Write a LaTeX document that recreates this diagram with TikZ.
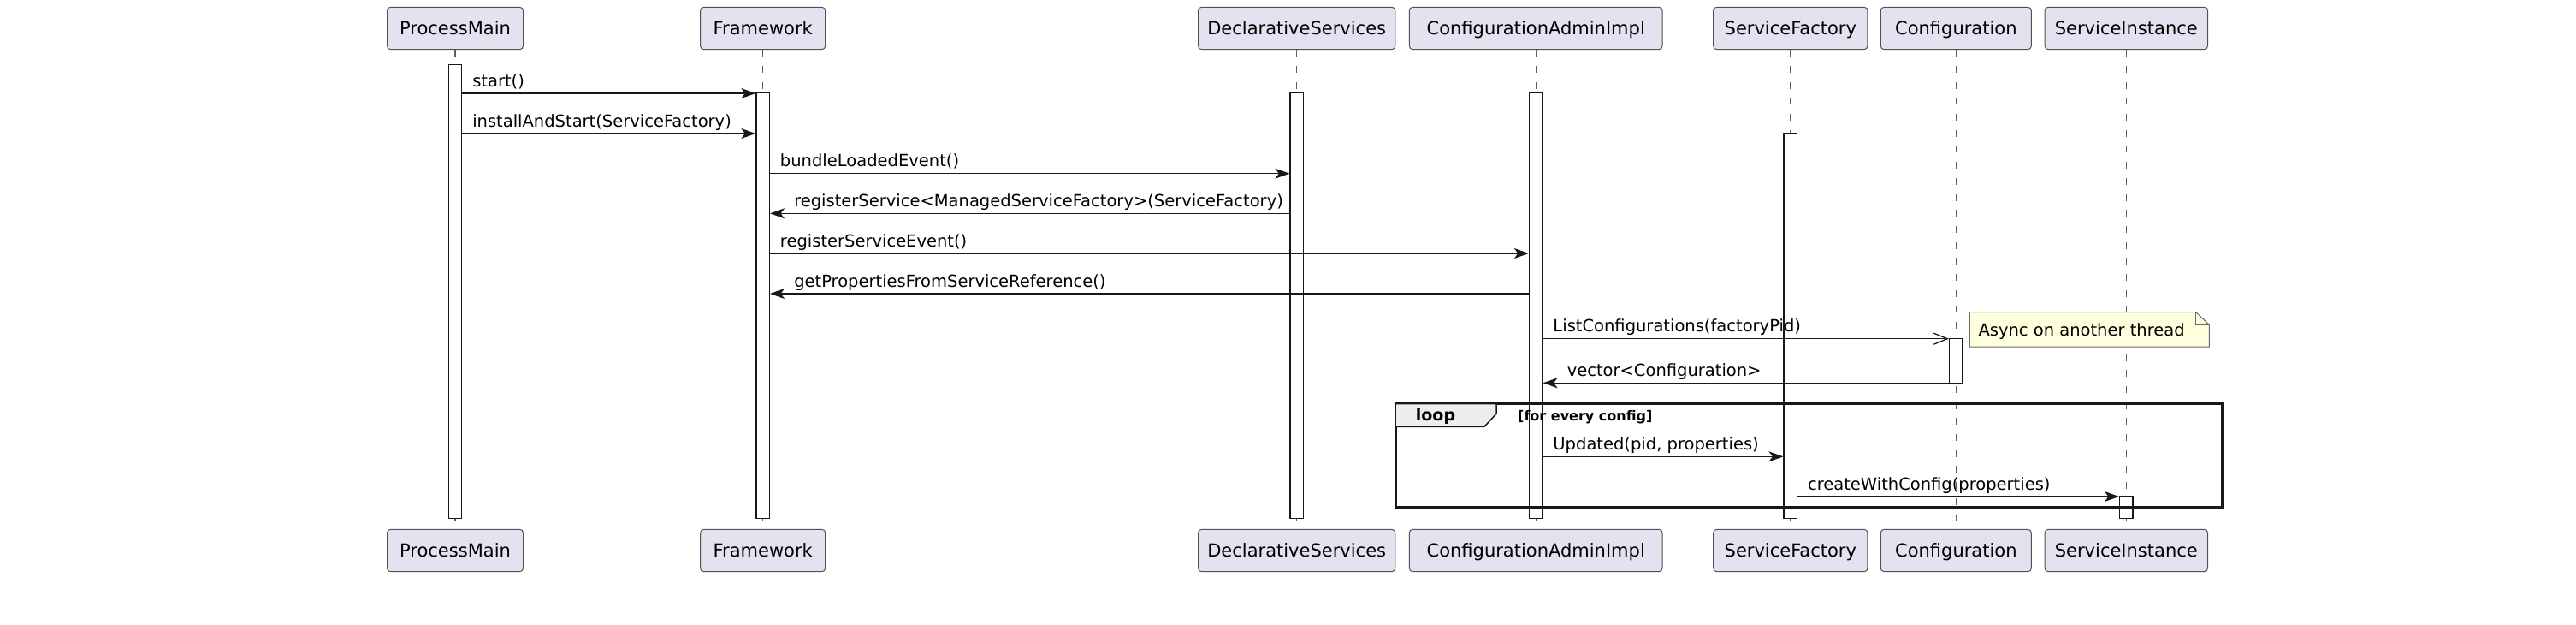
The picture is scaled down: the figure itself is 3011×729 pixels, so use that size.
\documentclass[tikz,border=0pt]{standalone}
\usepackage{fontspec}
\setmainfont{DejaVu Sans}
\usetikzlibrary{arrows.meta,calc}
\definecolor{partfill}{HTML}{E2E2F0}
\definecolor{ink}{HTML}{181818}
\definecolor{notefill}{HTML}{FEFFDD}
\definecolor{loopfill}{HTML}{EEEEEE}
\begin{document}
\begin{tikzpicture}[x=1pt,y=-1pt,
  part/.style={draw=ink!75, fill=partfill, line width=1pt, rounded corners=4pt,
    minimum height=49.4pt, inner xsep=0pt, inner ysep=0pt,
    font=\fontsize{21}{25}\selectfont, text height=17pt, text depth=2pt},
  life/.style={draw=ink!70, line width=1.1pt, dash pattern=on 8pt off 10.7pt},
  actbar/.style={draw=ink, fill=white, line width=1.4pt, minimum width=15.3pt, inner sep=0pt},
  msg/.style={draw=ink, line width=1.25pt, -{Stealth[length=17pt,width=12pt,inset=4.5pt]}},
  amsg/.style={draw=ink, line width=1.25pt, -{Straight Barb[length=16pt,width=13pt,line width=1.25pt]}},
  lbl/.style={font=\fontsize{19.5}{23}\selectfont, anchor=base west, inner sep=0pt},
]
\path[fill=white,use as bounding box] (0,0) rectangle (3011,729);

% participants (top and bottom)
\foreach \n/\x/\w/\t in {PM/532/159/ProcessMain, FW/891.7/146/Framework, DS/1515.7/230.3/DeclarativeServices,
  CA/1795.2/295.7/ConfigurationAdminImpl, SF/2092.8/180.3/ServiceFactory, CF/2286.3/176/Configuration,
  SI/2485.3/190.4/ServiceInstance}{
  \node[part, minimum width=\w pt] (\n T) at (\x,33) {\t};
  \node[part, minimum width=\w pt] (\n B) at (\x,643) {\t};
  \draw[life] (\n T.south) -- (\n B.north);
}

% activation bars
\node[actbar, minimum height=530.4pt] (aPM) at (532,340.5) {};
\node[actbar, minimum height=497pt] (aFW) at (891.7,357.2) {};
\node[actbar, minimum height=497pt] (aDS) at (1515.7,357.2) {};
\node[actbar, minimum height=497pt] (aCA) at (1795.2,357.2) {};
\node[actbar, minimum height=450pt] (aSF) at (2092.8,380.7) {};
\node[actbar, minimum height=51.6pt] (aCF) at (2286.3,421.5) {};
\node[actbar, minimum height=25.7pt] (aSI) at (2485.3,592.85) {};

% loop frame
\draw[draw=ink, line width=3pt] (1631,471.7) rectangle (2597.3,592.3);
\draw[draw=ink, fill=loopfill, line width=1.5pt] (1631,471.7) -- (1749,471.7) -- (1749,483.3)
  -- (1735,498.3) -- (1631,498.3) -- cycle;
\node[font=\bfseries\fontsize{19}{22}\selectfont, anchor=base, inner sep=0pt] (looptxt) at (1678,491.7) {loop};
\node[font=\bfseries\fontsize{16}{19}\selectfont, anchor=base west, inner sep=0pt] (loopcond) at (1774,491.7) {[for every config]};

% note
\draw[draw=ink!65, fill=notefill, line width=1pt] (2302.3,364.7) -- (2566.7,364.7) -- (2582.3,379.3)
  -- (2582.3,405) -- (2302.3,405) -- cycle;
\draw[draw=ink!65, line width=1pt] (2566.7,364.7) -- (2566.7,379.3) -- (2582.3,379.3);
\node[lbl] (note) at (2312.3,392.3) {Async on another thread};

% message rows
\coordinate (r1) at (0,109);
\coordinate (r2) at (0,156);
\coordinate (r3) at (0,202.7);
\coordinate (r4) at (0,249.3);
\coordinate (r5) at (0,296);
\coordinate (r6) at (0,343);
\coordinate (r7) at (0,395.7);
\coordinate (r8) at (0,447.3);
\coordinate (r9) at (0,533.3);
\coordinate (r10) at (0,580);

\draw[msg] (aPM.east |- r1) -- (aFW.west |- r1);
\node[lbl] (m1) at ($(aPM.east |- r1)+(11.7,-8)$) {start()};
\draw[msg] (aPM.east |- r2) -- (aFW.west |- r2);
\node[lbl] (m2) at ($(aPM.east |- r2)+(11.7,-8)$) {installAndStart(ServiceFactory)};
\draw[msg] (aFW.east |- r3) -- (aDS.west |- r3);
\node[lbl] (m3) at ($(aFW.east |- r3)+(11.7,-8)$) {bundleLoadedEvent()};
\draw[msg] (aDS.west |- r4) -- (aFW.east |- r4);
\node[lbl] (m4) at ($(aFW.east |- r4)+(28,-8)$) {registerService<ManagedServiceFactory>(ServiceFactory)};
\draw[msg] (aFW.east |- r5) -- (aCA.west |- r5);
\node[lbl] (m5) at ($(aFW.east |- r5)+(11.7,-8)$) {registerServiceEvent()};
\draw[msg] (aCA.west |- r6) -- (aFW.east |- r6);
\node[lbl] (m6) at ($(aFW.east |- r6)+(28,-8)$) {getPropertiesFromServiceReference()};
\draw[amsg] (aCA.east |- r7) -- (aCF.west |- r7);
\node[lbl] (m7) at ($(aCA.east |- r7)+(11.7,-8)$) {ListConfigurations(factoryPid)};
\draw[msg] (aCF.west |- r8) -- (aCA.east |- r8);
\node[lbl] (m8) at ($(aCA.east |- r8)+(28,-8)$) {vector<Configuration>};
\draw[msg] (aCA.east |- r9) -- (aSF.west |- r9);
\node[lbl] (m9) at ($(aCA.east |- r9)+(11.7,-8)$) {Updated(pid, properties)};
\draw[msg] (aSF.east |- r10) -- (aSI.west |- r10);
\node[lbl] (m10) at ($(aSF.east |- r10)+(11.7,-8)$) {createWithConfig(properties)};
\end{tikzpicture}
\end{document}
